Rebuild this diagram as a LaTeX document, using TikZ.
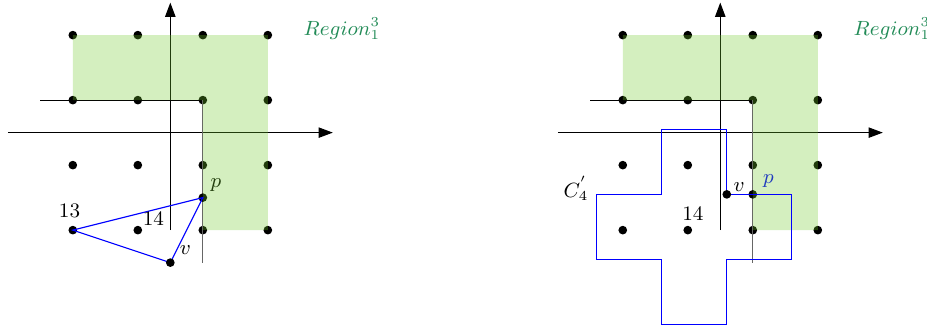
\documentclass[tikz,border=0pt]{standalone}
\usepackage{amsmath}
\usepackage{amssymb}
\usepackage{tikz}
\usetikzlibrary{arrows.meta}
\definecolor{regiongreen}{RGB}{112,202,42}
\definecolor{labelgreen}{RGB}{34,139,87}
\tikzset{
  gdot/.style={circle,fill=black,inner sep=0pt,minimum size=3.8pt},
  axis/.style={-{Triangle[length=2.2mm,width=1.6mm]}},
  region/.style={fill=regiongreen,fill opacity=0.3},
  lbl/.style={font=\small,inner sep=1pt},
}

\begin{document}
\begin{tikzpicture}[line width=0.5pt]
\useasboundingbox (-2.62,-3.0) rectangle (11.64,2.04);
% left picture
\begin{scope}
\draw[axis] (-2.5,0)--(2.5,0);
\draw[axis] (0,-1.5)--(0,2);
\foreach \x in {-1.5,-0.5,0.5,1.5}
  \foreach \y in {-1.5,-0.5,0.5,1.5}
    \node[gdot] at (\x,\y) {};
\draw (-2,0.5)--(0.5,0.5);
\draw[black!60] (0.5,0.5)--(0.5,-2);
\coordinate (a13) at (-1.5,-1.5);
\coordinate (p) at (0.5,-1);
\coordinate (v) at (0,-2);
\node[gdot] (pdot) at (p) {};
\node[lbl] (plabel) at (0.7,-0.8) {$p$};
\fill[region] (-1.5,1.5)--(1.5,1.5)--(1.5,-1.5)--(0.5,-1.5)--(0.5,0.5)--(-1.5,0.5)--cycle;
\draw[blue] (a13)--(p)--(v)--cycle;
\node[gdot] (vdot) at (v) {};
\node[lbl] (l13) at (-1.55,-1.2) {13};
\node[lbl] (l14) at (-0.26,-1.32) {14};
\node[lbl] (vlabel) at (0.23,-1.8) {$v$};
\node[lbl,text=labelgreen] (reg) at (2.64,1.6) {$Region_1^3$};
\end{scope}
% right picture
\begin{scope}[xshift=8.46cm]
\draw[axis] (-2.5,0)--(2.5,0);
\draw[axis] (0,-1.5)--(0,2);
\foreach \x in {-1.5,-0.5,0.5,1.5}
  \foreach \y in {-1.5,-0.5,0.5,1.5}
    \node[gdot] at (\x,\y) {};
\draw (-2,0.5)--(0.5,0.5);
\draw[black!60] (0.5,0.5)--(0.5,-2);
\coordinate (p2) at (0.5,-0.95);
\coordinate (v2) at (0.1,-0.95);
\node[gdot] (p2dot) at (p2) {};
\node[lbl,text=blue] (p2label) at (0.74,-0.75) {$p$};
\fill[region] (-1.5,1.5)--(1.5,1.5)--(1.5,-1.5)--(0.5,-1.5)--(0.5,0.5)--(-1.5,0.5)--cycle;
\draw[blue] (v2)--(0.1,0.05)--(-0.9,0.05)--(-0.9,-0.95)--(-1.9,-0.95)--(-1.9,-1.95)
  --(-0.9,-1.95)--(-0.9,-2.95)--(0.1,-2.95)--(0.1,-1.95)--(1.1,-1.95)--(1.1,-0.95)--cycle;
\node[gdot] (v2dot) at (v2) {};
\node[lbl] (c4) at (-2.22,-0.86) {$C_4^{'}$};
\node[lbl] (l14b) at (-0.42,-1.24) {14};
\node[lbl] (v2label) at (0.29,-0.83) {$v$};
\node[lbl,text=labelgreen] (reg2) at (2.64,1.6) {$Region_1^3$};
\end{scope}
\end{tikzpicture}
\end{document}
